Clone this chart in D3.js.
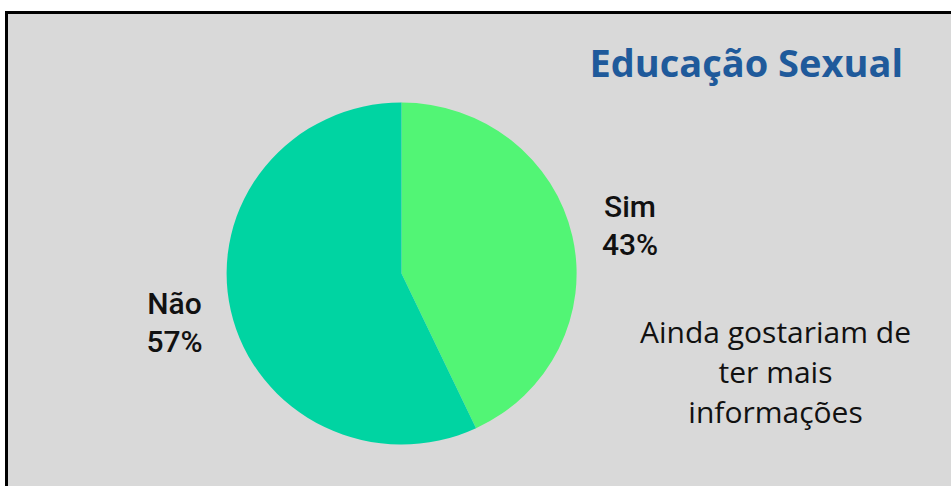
<!DOCTYPE html>
<html>
<head>
<meta charset="utf-8">
<script src="https://cdn.jsdelivr.net/npm/d3@7"></script>
<style>
  html, body { margin: 0; padding: 0; background: #ffffff; }
  svg { display: block; }
</style>
</head>
<body>
<svg id="chart" width="951" height="486"></svg>
<script>
// Survey answers on sex education
const categories = ["Sim", "Não"];
const values = [43, 57];
const colors = ["#52F575", "#00D4A2"];
const title = "Educação Sexual";
const noteLines = ["Ainda gostariam de", "ter mais", "informações"];

const svg = d3.select("#chart");

// Panel with black frame
svg.append("rect")
  .attr("x", 0).attr("y", 0).attr("width", 951).attr("height", 486)
  .attr("fill", "#ffffff");
svg.append("rect")
  .attr("x", 6.5).attr("y", 12.5).attr("width", 960).attr("height", 500)
  .attr("fill", "#D9D9D9")
  .attr("stroke", "#000000").attr("stroke-width", 3);

// Title
svg.append("text")
  .attr("x", 903).attr("y", 77)
  .attr("text-anchor", "end")
  .attr("font-family", "'Open Sans', sans-serif")
  .attr("font-weight", 700)
  .attr("font-size", 38)
  .attr("fill", "#1F5A9B")
  .text(title);

// Pie
const cx = 401.5, cy = 273.5, rx = 175, ry = 171;
const pie = d3.pie().sort(null).value(d => d)(values);
const arc = d3.arc().innerRadius(0).outerRadius(1);
const g = svg.append("g")
  .attr("transform", `translate(${cx},${cy}) scale(${rx},${ry})`);
g.selectAll("path")
  .data(pie)
  .join("path")
  .attr("d", arc)
  .attr("fill", (d, i) => colors[i]);

// Slice labels
const labelPos = [
  { x: 630, y: 217 },
  { x: 174.5, y: 314 }
];
const lbl = svg.append("g")
  .attr("font-family", "Roboto, 'Liberation Sans', sans-serif")
  .attr("font-weight", 500)
  .attr("font-size", 30)
  .attr("fill", "#111111")
  .attr("text-anchor", "middle");
pie.forEach((d, i) => {
  lbl.append("text").attr("x", labelPos[i].x).attr("y", labelPos[i].y)
    .text(categories[i]);
  lbl.append("text").attr("x", labelPos[i].x).attr("y", labelPos[i].y + 38)
    .text(d3.format(".0f")(values[i]) + "%");
});

// Side note
const note = svg.append("text")
  .attr("font-family", "'Open Sans', sans-serif")
  .attr("font-size", 30)
  .attr("fill", "#111111")
  .attr("text-anchor", "middle");
noteLines.forEach((t, i) => {
  note.append("tspan").attr("x", 775.5).attr("y", 343 + i * 40).text(t);
});
</script>
</body>
</html>
